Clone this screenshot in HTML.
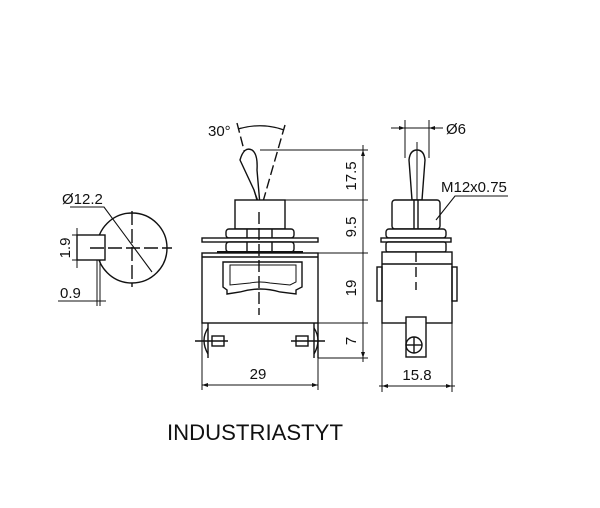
<!DOCTYPE html>
<html><head><meta charset="utf-8"><style>
html,body{margin:0;padding:0;background:#fff;width:600px;height:508px;overflow:hidden}
svg{display:block}
text{font-family:"Liberation Sans",sans-serif;fill:#111}
</style></head><body>
<svg width="600" height="508" viewBox="0 0 600 508" xmlns="http://www.w3.org/2000/svg">
<g stroke="#111" fill="none" stroke-width="1.4">
<!-- LEFT VIEW -->
<circle cx="132" cy="248" r="35"/>
<rect x="77" y="235" width="28" height="25" fill="#fff"/>
<line x1="90" y1="248" x2="172" y2="248" stroke-dasharray="14,4"/>
<line x1="132" y1="211" x2="132" y2="287" stroke-dasharray="14,4"/>
<polyline points="70,207 104,207 152,272" stroke-width="1.1"/>
<line x1="72" y1="235" x2="100" y2="235" stroke-width="1"/>
<line x1="72" y1="260" x2="100" y2="260" stroke-width="1"/>
<line x1="77" y1="228" x2="77" y2="268" stroke-width="1"/>
<line x1="97" y1="260" x2="97" y2="306" stroke-width="1"/>
<line x1="100" y1="260" x2="100" y2="306" stroke-width="1"/>
<line x1="58" y1="301" x2="106" y2="301" stroke-width="1"/>

<!-- FRONT VIEW -->
<line x1="237" y1="123" x2="260" y2="212" stroke-dasharray="10,4"/>
<line x1="285" y1="125" x2="260" y2="212" stroke-dasharray="10,4"/>
<path d="M238,129 Q262,122 284,130" stroke-width="1.2"/>
<path d="M240,160 Q244,146 252,150 Q258,154 257,170 L260,205 Q257,200 254,190 Z" fill="#fff"/>
<rect x="235" y="200" width="50" height="29" fill="#fff"/>
<rect x="226" y="229" width="68" height="9" rx="3" fill="#fff"/>
<line x1="247" y1="229" x2="247" y2="238"/><line x1="272" y1="229" x2="272" y2="238"/>
<rect x="202" y="238" width="116" height="4" fill="#fff"/>
<rect x="226" y="242" width="68" height="10" rx="3" fill="#fff"/>
<line x1="247" y1="242" x2="247" y2="252"/><line x1="272" y1="242" x2="272" y2="252"/>
<line x1="217" y1="252" x2="303" y2="252" stroke-width="2"/>
<rect x="202" y="253" width="116" height="70" fill="#fff"/>
<line x1="202" y1="257" x2="318" y2="257"/>
<path d="M223,262 L302,262 L302,287 L296,290 L296,294 L280,292 Q260,286 240,292 L227,294 L227,290 L223,287 Z"/>
<path d="M230,265 L296,265 L296,282 L290,285 L270,283 Q260,281 250,283 L230,285 Z" stroke-width="1"/>
<line x1="259" y1="212" x2="259" y2="315" stroke-dasharray="12,4"/>
<!-- terminals -->
<path d="M208,328 Q200,340 208,354"/><line x1="208" y1="323" x2="208" y2="358"/>
<rect x="212" y="336" width="12" height="10"/><line x1="195" y1="341" x2="228" y2="341"/>
<path d="M314,328 Q322,340 314,354"/><line x1="314" y1="323" x2="314" y2="358"/>
<rect x="296" y="336" width="12" height="10"/><line x1="291" y1="341" x2="325" y2="341"/>
<line x1="318" y1="323" x2="318" y2="358"/>
<!-- dims -->
<line x1="202" y1="323" x2="202" y2="390" stroke-width="1"/>
<line x1="318" y1="358" x2="318" y2="390" stroke-width="1"/>
<line x1="202" y1="385" x2="318" y2="385" stroke-width="1"/>
<line x1="260" y1="150" x2="368" y2="150" stroke-width="1"/>
<line x1="285" y1="200" x2="368" y2="200" stroke-width="1"/>
<line x1="318" y1="253" x2="368" y2="253" stroke-width="1"/>
<line x1="318" y1="323" x2="368" y2="323" stroke-width="1"/>
<line x1="318" y1="358" x2="368" y2="358" stroke-width="1"/>
<line x1="363" y1="145" x2="363" y2="362" stroke-width="1"/>

<!-- SIDE VIEW -->
<line x1="405" y1="120" x2="405" y2="158" stroke-width="1"/>
<line x1="429" y1="120" x2="429" y2="158" stroke-width="1"/>
<line x1="391" y1="128" x2="443" y2="128" stroke-width="1"/>
<path d="M409,160 Q410,150 417,150 Q424,150 425,160 L422,200 L412,200 Z" fill="#fff"/>
<line x1="417" y1="142" x2="417" y2="200" stroke-width="1"/>
<rect x="392" y="200" width="48" height="29" rx="3" fill="#fff"/>
<line x1="414" y1="200" x2="414" y2="229"/><line x1="418" y1="200" x2="418" y2="229"/>
<rect x="386" y="229" width="60" height="9" rx="3" fill="#fff"/>
<rect x="381" y="238" width="70" height="4" fill="#fff"/>
<rect x="386" y="242" width="60" height="10" rx="2" fill="#fff"/>
<rect x="382" y="252" width="70" height="71" fill="#fff"/>
<line x1="382" y1="264" x2="452" y2="264"/>
<rect x="377" y="267" width="5" height="34"/><rect x="452" y="267" width="5" height="34"/>
<line x1="416" y1="252" x2="416" y2="290" stroke-dasharray="10,5"/>
<rect x="406" y="317" width="20" height="40" fill="#fff"/>
<circle cx="414" cy="345" r="8"/>
<line x1="406" y1="345" x2="422" y2="345"/><line x1="414" y1="337" x2="414" y2="353"/>
<polyline points="508,196 455,196 436,220" stroke-width="1.1"/>
<line x1="382" y1="323" x2="382" y2="392" stroke-width="1"/>
<line x1="452" y1="323" x2="452" y2="392" stroke-width="1"/>
<line x1="379" y1="386" x2="455" y2="386" stroke-width="1"/>
</g>
<g fill="#111">
<polygon points="202,385 208,383 208,387"/><polygon points="318,385 312,383 312,387"/>
<polygon points="363,150 361,156 365,156"/><polygon points="363,358 361,352 365,352"/>
<polygon points="405,128 399,126 399,130"/><polygon points="429,128 435,126 435,130"/>
<polygon points="382,386 388,384 388,388"/><polygon points="452,386 446,384 446,388"/>
</g>
<text x="208" y="136" font-size="15">30°</text>
<text x="62" y="204" font-size="15">Ø12.2</text>
<text x="60" y="298" font-size="15">0.9</text>
<text transform="translate(70,248) rotate(-90)" font-size="15" text-anchor="middle">1.9</text>
<text x="258" y="379" font-size="15" text-anchor="middle">29</text>
<text transform="translate(356,176) rotate(-90)" font-size="15" text-anchor="middle">17.5</text>
<text transform="translate(356,227) rotate(-90)" font-size="15" text-anchor="middle">9.5</text>
<text transform="translate(356,288) rotate(-90)" font-size="15" text-anchor="middle">19</text>
<text transform="translate(356,341) rotate(-90)" font-size="15" text-anchor="middle">7</text>
<text x="446" y="134" font-size="15">Ø6</text>
<text x="441" y="192" font-size="15">M12x0.75</text>
<text x="417" y="380" font-size="15" text-anchor="middle">15.8</text>
<text x="167" y="440" font-size="22" textLength="176" lengthAdjust="spacingAndGlyphs">INDUSTRIASTYT</text>
</svg>
</body></html>
